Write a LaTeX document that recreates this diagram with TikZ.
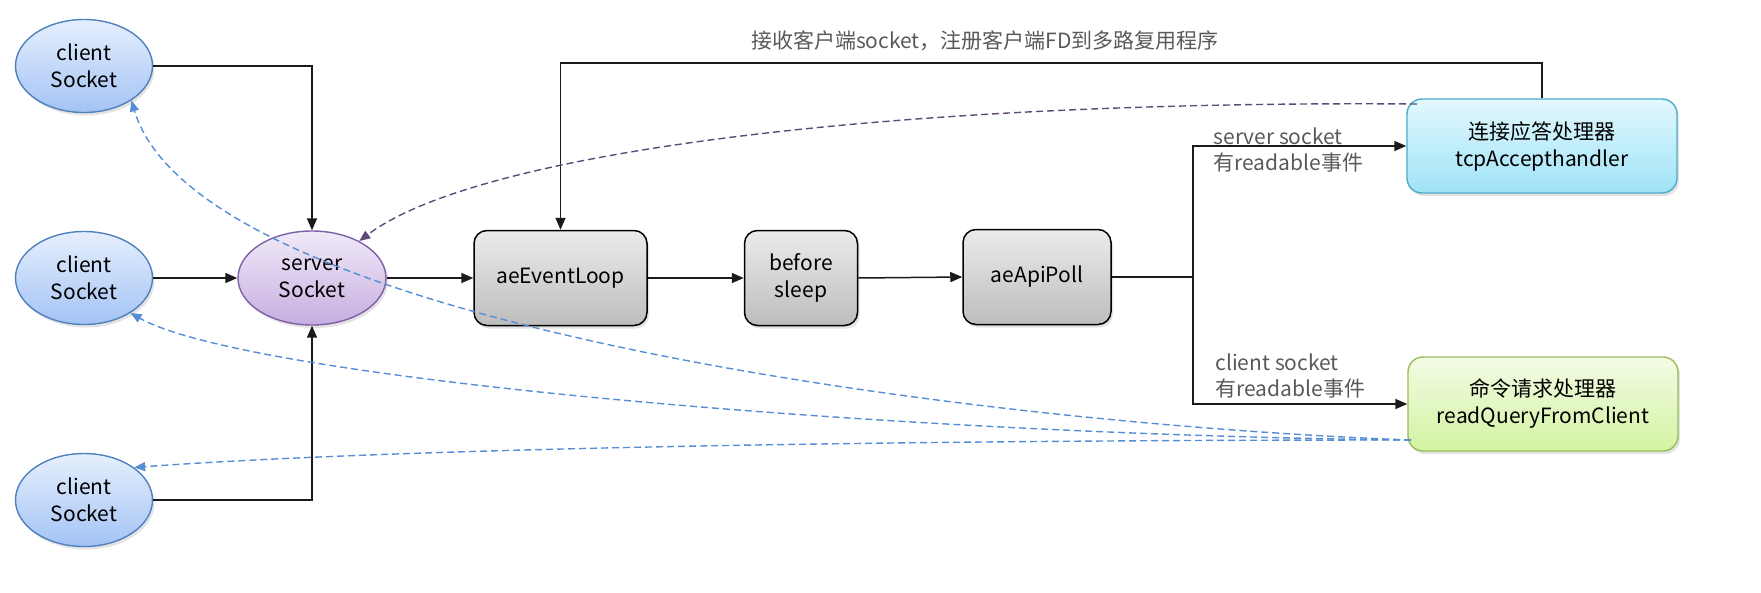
\documentclass[tikz,border=0pt]{standalone}
\usepackage{fontspec}
\setmainfont{Noto Sans CJK SC}
\usetikzlibrary{arrows.meta,shapes.geometric,shadows}
\definecolor{cliT}{HTML}{E6EFFD}
\definecolor{cliBot}{HTML}{A3C3F5}
\definecolor{cliB}{HTML}{4F81BD}
\definecolor{srvT}{HTML}{F0EAF8}
\definecolor{srvBot}{HTML}{C6AEE0}
\definecolor{srvB}{HTML}{7F5FA8}
\definecolor{procT}{HTML}{EBEBEB}
\definecolor{procBot}{HTML}{BDBDBD}
\definecolor{tcpT}{HTML}{E3F8FE}
\definecolor{tcpBot}{HTML}{9FE3F7}
\definecolor{tcpB}{HTML}{4BACC6}
\definecolor{rqT}{HTML}{F3FCE5}
\definecolor{rqBot}{HTML}{D3F2A2}
\definecolor{rqB}{HTML}{9BBB59}
\definecolor{pdashC}{HTML}{5F497A}
\definecolor{bdashC}{HTML}{558ED5}
\definecolor{lblC}{HTML}{595959}
\definecolor{lineC}{HTML}{1A1A1A}
\begin{document}
\begin{tikzpicture}[x=1pt,y=-1pt,
  every node/.style={font=\fontsize{21}{27}\selectfont, align=center},
  shd/.style={drop shadow={opacity=0.22, shadow xshift=2pt, shadow yshift=-3pt}},
  cli/.style={ellipse, draw=cliB, line width=1.4pt, top color=cliT, bottom color=cliBot,
    minimum width=137pt, minimum height=93pt, inner sep=0pt, shd},
  srvs/.style={ellipse, draw=srvB, line width=1.4pt, top color=srvT, bottom color=srvBot,
    minimum width=148pt, minimum height=94pt, inner sep=0pt, shd},
  proc/.style={rectangle, rounded corners=13pt, draw=black, line width=1.5pt,
    top color=procT, bottom color=procBot, minimum height=95pt, inner sep=0pt, shd},
  hnd/.style={rectangle, rounded corners=15pt, line width=1.4pt,
    minimum width=270pt, minimum height=94pt, inner sep=0pt, shd},
  conn/.style={draw=lineC, line width=1.5pt, -{Triangle[length=12pt,width=10pt]}},
  plain/.style={draw=lineC, line width=1.5pt},
  lbl/.style={text=lblC, font=\fontsize{21}{26}\selectfont},
  pdash/.style={draw=pdashC, line width=1.4pt, dash pattern=on 7pt off 4pt, -{Triangle[length=11pt,width=9pt]}},
  bdash/.style={draw=bdashC, line width=1.4pt, dash pattern=on 7pt off 4pt, -{Triangle[length=11pt,width=9pt]}}
]
\useasboundingbox (0,0) rectangle (1761,592);

% nodes
\node[cli] (c1) at (84,66) {client\\Socket};
\node[cli] (c2) at (84,278) {client\\Socket};
\node[cli] (c3) at (84,500) {client\\Socket};
\node[srvs] (srv) at (312,278) {server\\Socket};
\node[proc, minimum width=173pt] (ael) at (560.5,278) {aeEventLoop};
\node[proc, minimum width=113pt] (bs) at (801,278) {before\\sleep};
\node[proc, minimum width=148pt] (poll) at (1037,277) {aeApiPoll};
\node[hnd, draw=tcpB, top color=tcpT, bottom color=tcpBot] (tcp) at (1542,146) {连接应答处理器\\tcpAccepthandler};
\node[hnd, draw=rqB, top color=rqT, bottom color=rqBot] (rq) at (1543,404) {命令请求处理器\\readQueryFromClient};

% labels
\node[lbl] (tl) at (985,41) {接收客户端socket，注册客户端FD到多路复用程序};
\node[lbl, anchor=west, align=left] (l1) at (1210,150) {server socket\\有readable事件};
\node[lbl, anchor=west, align=left] (l2) at (1212,376) {client socket\\有readable事件};

% solid connectors
\draw[conn] (c1.east) -| (srv.north);
\draw[conn] (c2.east) -- (srv.west);
\draw[conn] (c3.east) -| (srv.south);
\draw[conn] (srv.east) -- (ael.west);
\draw[conn] (ael.east) -- (bs.west);
\draw[conn] (bs.east) -- (poll.west);
\coordinate (jn) at (1193,277);
\draw[plain] (poll.east) -- (jn);
\draw[conn] (jn) |- (tcp.west);
\draw[conn] (jn) |- (rq.west);
\coordinate (topc) at (560.5,63);
\draw[conn] (tcp.north) |- (topc) -- (ael.north);

% dashed connectors
\coordinate (tcpo) at (1417,104);
\draw[pdash] (tcpo) .. controls (900,100) and (480,150) .. (srv.38);
\coordinate (rqo) at (1411,440);
\draw[bdash] (rqo) .. controls (1000,425) and (200,330) .. (c1.-36);
\draw[bdash] (rqo) .. controls (900,435) and (250,380) .. (c2.-37);
\draw[bdash] (rqo) .. controls (900,440) and (400,448) .. (c3.33);
\end{tikzpicture}
\end{document}
